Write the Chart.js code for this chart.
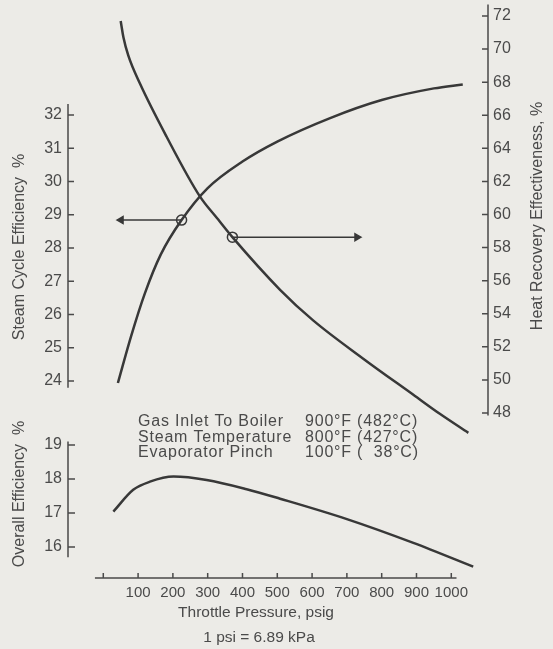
<!DOCTYPE html>
<html lang="en">
<head>
<meta charset="UTF-8">
<title>Steam Cycle and Overall Efficiency vs Throttle Pressure</title>
<script src="https://cdn.jsdelivr.net/npm/chart.js"></script>
<style>
  body { margin: 0; background: #ecebe7; }
  #wrap { position: relative; width: 553px; height: 649px; }
  canvas { position: absolute; left: 0; top: 0; }
</style>
</head>
<body>
<div id="wrap">
  <canvas id="upper" width="553" height="649"></canvas>
  <canvas id="lower" width="553" height="649"></canvas>
</div>
<script>
// values, x = throttle pressure (psig)
const steamP   = [42, 80, 120, 165, 225, 300, 400, 500, 650, 800, 950, 1033];
const steamEff = [23.94, 25.35, 26.65, 27.8, 28.84, 29.8, 30.6, 31.2, 31.9, 32.45, 32.8, 32.92];

const heatP   = [50, 58, 72, 105, 182, 278, 326, 371, 508, 603, 746, 891, 967, 1049];
const heatEff = [71.7, 70.7, 69.6, 67.93, 64.7, 61.08, 59.8, 58.63, 55.45, 53.6, 51.3, 49.1, 47.95, 46.8];

const overallP   = [29, 86, 134, 202, 297, 412, 508, 700, 891, 1063];
const overallEff = [17.04, 17.68, 17.92, 18.07, 17.97, 17.7, 17.42, 16.82, 16.12, 15.42];

// design points marked with circles and arrows
const steamMark = { p: 225, v: 28.84, arrowTo: 51 };
const heatMark  = { p: 371, v: 58.63, arrowTo: 729 };

// tick labels
const xTicks       = [0, 100, 200, 300, 400, 500, 600, 700, 800, 900, 1000];
const steamTicks   = [24, 25, 26, 27, 28, 29, 30, 31, 32];
const heatTicks    = [48, 50, 52, 54, 56, 58, 60, 62, 64, 66, 68, 70, 72];
const overallTicks = [16, 17, 18, 19];

const notes = [
  ["Gas Inlet To Boiler", "900\u00b0F (482\u00b0C)"],
  ["Steam Temperature",   "800\u00b0F (427\u00b0C)"],
  ["Evaporator Pinch",    "100\u00b0F (  38\u00b0C)"]
];

const ink = "#383838";
const textCol = "#4a4a4a";
const fontFam = "'Liberation Sans', Arial, sans-serif";

function pts(xs, ys) { return xs.map((x, i) => ({ x: x, y: ys[i] })); }
function fixTicks(list) { return s => { s.ticks = list.map(v => ({ value: v })); }; }

const xRange = { min: -101.4, max: 1105.5 };

function curve(data, axis) {
  return {
    data: data, yAxisID: axis, borderColor: ink, borderWidth: 2.5,
    pointRadius: 0, cubicInterpolationMode: "monotone", clip: false
  };
}
function arrow(m, axis, rot) {
  return {
    data: [{ x: m.p, y: m.v }, { x: m.arrowTo, y: m.v }], yAxisID: axis,
    borderColor: ink, borderWidth: 1.5, pointRadius: [0, 4],
    pointStyle: "triangle", pointRotation: [0, rot],
    pointBackgroundColor: ink, pointBorderColor: ink, clip: false
  };
}
function ring(m, axis) {
  return {
    data: [{ x: m.p, y: m.v }], yAxisID: axis, showLine: false,
    pointRadius: 5, pointBorderWidth: 1.5, pointBorderColor: ink,
    pointBackgroundColor: "rgba(0,0,0,0)", clip: false
  };
}

function tickFont(size) { return { family: fontFam, size: size }; }

function vText(ctx, text, x, y) {
  ctx.save();
  ctx.translate(x, y);
  ctx.rotate(-Math.PI / 2);
  ctx.textAlign = "center";
  ctx.textBaseline = "middle";
  ctx.fillText(text, 0, 0);
  ctx.restore();
}

// axis lines with inward ticks, titles and the notes
const upperDeco = {
  id: "upperDeco",
  afterDraw(chart) {
    const ctx = chart.ctx, yL = chart.scales.yL, yR = chart.scales.yR;
    ctx.save();
    ctx.strokeStyle = "#4a4a4a";
    ctx.lineWidth = 1.5;
    ctx.beginPath();
    ctx.moveTo(68, yL.getPixelForValue(32.33));
    ctx.lineTo(68, yL.getPixelForValue(23.8));
    steamTicks.forEach(v => { const y = yL.getPixelForValue(v); ctx.moveTo(68, y); ctx.lineTo(74, y); });
    ctx.moveTo(488, yR.getPixelForValue(72.7));
    ctx.lineTo(488, yR.getPixelForValue(47.85));
    heatTicks.forEach(v => { const y = yR.getPixelForValue(v); ctx.moveTo(482, y); ctx.lineTo(488, y); });
    ctx.stroke();
    ctx.fillStyle = textCol;
    ctx.font = "16px " + fontFam;
    vText(ctx, "Steam Cycle Efficiency  %", 20, 247);
    vText(ctx, "Heat Recovery Effectiveness, %", 538, 216);
    ctx.textAlign = "left";
    ctx.textBaseline = "middle";
    ctx.letterSpacing = "0.8px";
    notes.forEach((n, i) => {
      ctx.fillText(n[0], 138, 422 + i * 15.5);
      ctx.fillText(n[1], 305, 422 + i * 15.5);
    });
    ctx.restore();
  }
};

const lowerDeco = {
  id: "lowerDeco",
  afterDraw(chart) {
    const ctx = chart.ctx, yB = chart.scales.yB, x = chart.scales.x;
    ctx.save();
    ctx.strokeStyle = "#4a4a4a";
    ctx.lineWidth = 1.5;
    ctx.beginPath();
    ctx.moveTo(68, yB.getPixelForValue(19.1));
    ctx.lineTo(68, yB.getPixelForValue(15.7));
    overallTicks.forEach(v => { const y = yB.getPixelForValue(v); ctx.moveTo(68, y); ctx.lineTo(75, y); });
    const base = chart.chartArea.bottom;
    ctx.moveTo(x.getPixelForValue(-24), base);
    ctx.lineTo(x.getPixelForValue(1015), base);
    xTicks.forEach(v => { const px = x.getPixelForValue(v); ctx.moveTo(px, base); ctx.lineTo(px, base - 5); });
    ctx.stroke();
    ctx.fillStyle = textCol;
    ctx.font = "16px " + fontFam;
    vText(ctx, "Overall Efficiency  %", 20, 494);
    ctx.font = "15.5px " + fontFam;
    ctx.textAlign = "center";
    ctx.textBaseline = "middle";
    ctx.fillText("Throttle Pressure, psig", 256, 613);
    ctx.fillText("1 psi = 6.89 kPa", 259, 638);
    ctx.restore();
  }
};

const common = {
  responsive: false,
  animation: false,
  events: [],
  plugins: { legend: { display: false }, tooltip: { enabled: false } }
};

new Chart(document.getElementById("upper"), {
  type: "line",
  data: {
    datasets: [
      curve(pts(steamP, steamEff), "yL"),
      curve(pts(heatP, heatEff), "yR"),
      arrow(steamMark, "yL", -90),
      arrow(heatMark, "yR", 90),
      ring(steamMark, "yL"),
      ring(heatMark, "yR")
    ]
  },
  options: Object.assign({}, common, {
    layout: { padding: { top: 16, bottom: 236, left: 0, right: 0 } },
    scales: {
      x: { type: "linear", display: false, min: xRange.min, max: xRange.max },
      yL: {
        position: "left", min: 23.038, max: 34.977,
        afterBuildTicks: fixTicks(steamTicks),
        afterFit: s => { s.width = 68; },
        grid: { display: false, drawTicks: false }, border: { display: false },
        ticks: { color: textCol, font: tickFont(16), padding: 6 }
      },
      yR: {
        position: "right", min: 48, max: 72,
        afterBuildTicks: fixTicks(heatTicks),
        afterFit: s => { s.width = 65; },
        grid: { display: false, drawTicks: false }, border: { display: false },
        ticks: { color: textCol, font: tickFont(16), padding: 5 }
      }
    }
  }),
  plugins: [upperDeco]
});

new Chart(document.getElementById("lower"), {
  type: "line",
  data: {
    datasets: [curve(pts(overallP, overallEff), "yB")]
  },
  options: Object.assign({}, common, {
    layout: { padding: { top: 430, bottom: 41, left: 0, right: 65 } },
    scales: {
      x: {
        type: "linear", position: "bottom", min: xRange.min, max: xRange.max,
        afterBuildTicks: fixTicks(xTicks),
        afterFit: s => { s.height = 30; },
        grid: { display: false, drawTicks: false }, border: { display: false },
        ticks: {
          color: textCol, font: tickFont(15), padding: 6, autoSkip: false, maxRotation: 0,
          callback: v => (v === 0 ? "" : String(v))
        }
      },
      yB: {
        position: "left", min: 15.088, max: 19.44,
        afterBuildTicks: fixTicks(overallTicks),
        afterFit: s => { s.width = 68; },
        grid: { display: false, drawTicks: false }, border: { display: false },
        ticks: { color: textCol, font: tickFont(16), padding: 6 }
      }
    }
  }),
  plugins: [lowerDeco]
});
</script>
</body>
</html>
